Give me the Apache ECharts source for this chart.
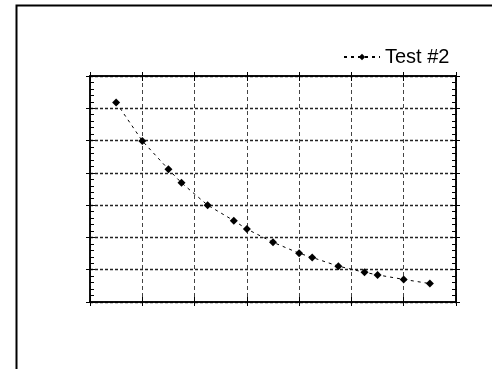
<!DOCTYPE html>
<html>
<head>
<meta charset="utf-8">
<script src="https://cdn.jsdelivr.net/npm/echarts@6/dist/echarts.min.js"></script>
<style>
html,body{margin:0;padding:0;background:#fff;}
#c{width:492px;height:369px;}
</style>
</head>
<body>
<div id="c"></div>
<script>
const seriesName = 'Test #2';
const xValues = [0.5, 1, 1.5, 1.75, 2.25, 2.75, 3, 3.5, 4, 4.25, 4.75, 5.25, 5.5, 6, 6.5];
const yValues = [6.18, 4.99, 4.11, 3.69, 3.0, 2.52, 2.26, 1.85, 1.51, 1.38, 1.11, 0.92, 0.84, 0.70, 0.57];

const chart = echarts.init(document.getElementById('c'), null, {renderer: 'canvas'});
const points = xValues.map((x, i) => [x, yValues[i]]);

function xAx(pos, opts) {
  return Object.assign({
    type: 'value', position: pos, min: 0, max: 7, interval: 1,
    axisLabel: {show: false},
    axisLine: {show: true, onZero: false, lineStyle: {color: '#000', width: 1.5}},
    axisTick: {show: true, inside: false, length: 4, lineStyle: {color: '#000', width: 1}},
    splitLine: {show: false}
  }, opts || {});
}
function yAx(pos, opts) {
  return Object.assign({
    type: 'value', position: pos, min: 0, max: 7, interval: 1,
    axisLabel: {show: false},
    axisLine: {show: true, onZero: false, lineStyle: {color: '#000', width: 1.5}},
    axisTick: {show: true, inside: false, length: 4, lineStyle: {color: '#000', width: 1}},
    splitLine: {show: false}
  }, opts || {});
}

const option = {
  animation: false,
  backgroundColor: '#fff',
  graphic: [{
    type: 'rect', left: 14, top: 3, silent: true,
    shape: {x: 0, y: 0, width: 520, height: 365},
    style: {fill: 'none', stroke: '#000', lineWidth: 2}
  }],
  legend: {
    show: true, left: 338, top: 42,
    itemWidth: 36, itemHeight: 8, itemGap: 10,
    textStyle: {fontFamily: 'Liberation Sans, Arial, sans-serif', fontSize: 20, color: '#000'},
    data: [seriesName]
  },
  grid: {left: 90, top: 76, width: 366, height: 226, show: false},
  xAxis: [
    xAx('bottom', {
      splitLine: {show: true, lineStyle: {color: '#444', type: [4, 3], width: 1}},
      axisTick: {show: true, inside: true, length: 5, lineStyle: {color: '#000'}}
    }),
    xAx('bottom'),
    xAx('top', {axisTick: {show: true, inside: true, length: 5, lineStyle: {color: '#000'}}}),
    xAx('top')
  ],
  yAxis: [
    yAx('left', {
      splitLine: {show: true, lineStyle: {color: '#222', type: [3, 2], width: 1.3}},
      axisTick: {show: true, inside: true, length: 5, lineStyle: {color: '#000'}},
      minorTick: {show: true, splitNumber: 5, length: 4, lineStyle: {color: '#000'}}
    }),
    yAx('left'),
    yAx('right', {
      axisTick: {show: true, inside: true, length: 5, lineStyle: {color: '#000'}},
      minorTick: {show: true, splitNumber: 5, length: 4, lineStyle: {color: '#000'}}
    }),
    yAx('right')
  ],
  series: [{
    name: seriesName, type: 'line', xAxisIndex: 0, yAxisIndex: 0,
    data: points,
    symbol: 'diamond', symbolSize: 8,
    itemStyle: {color: '#000'},
    lineStyle: {color: '#000', width: 1, type: [3, 4]}
  }]
};
chart.setOption(option);
</script>
</body>
</html>
